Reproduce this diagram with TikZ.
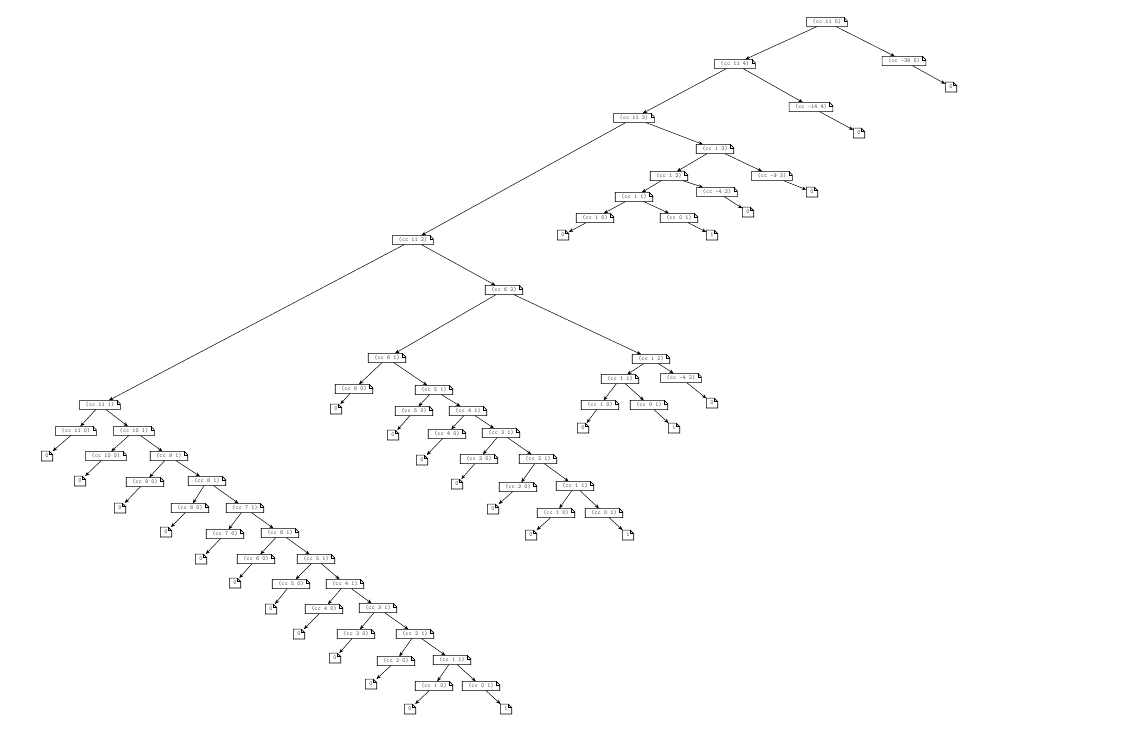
\documentclass[tikz,border=0pt]{standalone}
\usetikzlibrary{arrows.meta}
\tikzset{
  fold/.style={append after command={\pgfextra{%
    \draw[line width=0.6pt,line join=miter]
      (\tikzlastnode.south west) -- (\tikzlastnode.north west)
      -- ([xshift=-3.5pt]\tikzlastnode.north east)
      -- ([yshift=-3.5pt]\tikzlastnode.north east)
      -- (\tikzlastnode.south east) -- cycle;
    \draw[line width=0.3pt]
      ([xshift=-3.5pt]\tikzlastnode.north east)
      -- ([xshift=-3.5pt,yshift=-3.5pt]\tikzlastnode.north east)
      -- ([yshift=-3.5pt]\tikzlastnode.north east);}}},
  cc/.style={fold,inner xsep=5.8pt,inner ysep=1.7pt,text height=4.3pt,text depth=1.2pt,
    font=\ttfamily\fontsize{6}{7}\selectfont,text=black!70},
  lf/.style={fold,inner sep=0pt,minimum width=11pt,minimum height=9.5pt,
    font=\ttfamily\fontsize{6}{7}\selectfont,text=black!70},
  edge/.style={draw,line width=0.5pt,-{Stealth[length=4.5pt,width=3.5pt]}}
}
\begin{document}
\begin{tikzpicture}[x=1pt,y=-1pt]
\useasboundingbox[fill=white] (0,0) rectangle (1139,753);
% top part
\node[cc] (r) at (827,22) {(cc 11 5)};
\node[cc] (a) at (735,64) {(cc 11 4)};
\node[cc] (b) at (904,61) {(cc -39 5)};
\node[lf] (bl) at (951,87) {0};
\node[cc] (a1) at (634,118) {(cc 11 3)};
\node[cc] (a2) at (811,107) {(cc -14 4)};
\node[lf] (a2l) at (859,133) {0};
\node[cc] (c) at (413,240) {(cc 11 2)};
\node[cc] (d) at (715,149) {(cc 1 3)};
\node[cc] (d1) at (669,176) {(cc 1 2)};
\node[cc] (d2) at (772,176) {(cc -9 3)};
\node[lf] (d2l) at (812,192) {0};
\node[cc] (d11) at (634,197) {(cc 1 1)};
\node[cc] (d12) at (717,192) {(cc -4 2)};
\node[lf] (d12l) at (748,212) {0};
\node[cc] (d111) at (595,218) {(cc 1 0)};
\node[lf] (d111l) at (563,235) {0};
\node[cc] (d112) at (679,218) {(cc 0 1)};
\node[lf] (d112l) at (712,235) {1};
% (cc 6 2) subtree
\node[cc] (f) at (504,290) {(cc 6 2)};
\node[cc] (f2) at (651,359) {(cc 1 2)};
\node[cc] (f2a) at (620,379) {(cc 1 1)};
\node[cc] (f2b) at (681,378) {(cc -4 2)};
\node[lf] (f2bl) at (712,403) {0};
\node[cc] (f2aa) at (600,405) {(cc 1 0)};
\node[lf] (f2aal) at (583,428) {0};
\node[cc] (f2ab) at (649,405) {(cc 0 1)};
\node[lf] (f2abl) at (674,428) {1};
\node[cc] (M6a) at (387,358) {(cc 6 1)};
\node[cc] (M6b) at (354,389) {(cc 6 0)};
\node[lf] (M6c) at (336,409) {0};
\node[cc] (M5a) at (434,390) {(cc 5 1)};
\node[cc] (M5b) at (414,411) {(cc 5 0)};
\node[lf] (M5c) at (393,435) {0};
\node[cc] (M4a) at (468,411) {(cc 4 1)};
\node[cc] (M4b) at (447,434) {(cc 4 0)};
\node[lf] (M4c) at (422,460) {0};
\node[cc] (M3a) at (501,433) {(cc 3 1)};
\node[cc] (M3b) at (479,459) {(cc 3 0)};
\node[lf] (M3c) at (457,484) {0};
\node[cc] (M2a) at (538,459) {(cc 2 1)};
\node[cc] (M2b) at (518,487) {(cc 2 0)};
\node[lf] (M2c) at (493,509) {0};
\node[cc] (M1a) at (575,486) {(cc 1 1)};
\node[cc] (M1b) at (556,513) {(cc 1 0)};
\node[lf] (M1c) at (531,535) {0};
\node[cc] (M0a) at (604,513) {(cc 0 1)};
\node[lf] (M0c) at (628,535) {1};
% (cc 11 1) subtree
\node[cc] (L11a) at (100,405) {(cc 11 1)};
\node[cc] (L11b) at (76,431) {(cc 11 0)};
\node[lf] (L11c) at (47,456) {0};
\node[cc] (L10a) at (134,431) {(cc 10 1)};
\node[cc] (L10b) at (106,456) {(cc 10 0)};
\node[lf] (L10c) at (80,481) {0};
\node[cc] (L9a) at (169,456) {(cc 9 1)};
\node[cc] (L9b) at (145,482) {(cc 9 0)};
\node[lf] (L9c) at (120,508) {0};
\node[cc] (L8a) at (207,481) {(cc 8 1)};
\node[cc] (L8b) at (190,508) {(cc 8 0)};
\node[lf] (L8c) at (166,532) {0};
\node[cc] (L7a) at (245,508) {(cc 7 1)};
\node[cc] (L7b) at (225,534) {(cc 7 0)};
\node[lf] (L7c) at (201,559) {0};
\node[cc] (L6a) at (280,533) {(cc 6 1)};
\node[cc] (L6b) at (256,559) {(cc 6 0)};
\node[lf] (L6c) at (235,583) {0};
\node[cc] (L5a) at (316,559) {(cc 5 1)};
\node[cc] (L5b) at (291,584) {(cc 5 0)};
\node[lf] (L5c) at (271,609) {0};
\node[cc] (L4a) at (345,584) {(cc 4 1)};
\node[cc] (L4b) at (324,609) {(cc 4 0)};
\node[lf] (L4c) at (299,634) {0};
\node[cc] (L3a) at (378,608) {(cc 3 1)};
\node[cc] (L3b) at (356,634) {(cc 3 0)};
\node[lf] (L3c) at (335,658) {0};
\node[cc] (L2a) at (415,634) {(cc 2 1)};
\node[cc] (L2b) at (396,661) {(cc 2 0)};
\node[lf] (L2c) at (371,684) {0};
\node[cc] (L1a) at (452,660) {(cc 1 1)};
\node[cc] (L1b) at (434,686) {(cc 1 0)};
\node[lf] (L1c) at (410,709) {0};
\node[cc] (L0a) at (481,686) {(cc 0 1)};
\node[lf] (L0c) at (506,709) {1};
% edges
\draw[edge] (r) -- (a);
\draw[edge] (r) -- (b);
\draw[edge] (b) -- (bl);
\draw[edge] (a) -- (a1);
\draw[edge] (a) -- (a2);
\draw[edge] (a2) -- (a2l);
\draw[edge] (a1) -- (c);
\draw[edge] (a1) -- (d);
\draw[edge] (d) -- (d1);
\draw[edge] (d) -- (d2);
\draw[edge] (d2) -- (d2l);
\draw[edge] (d1) -- (d11);
\draw[edge] (d1) -- (d12);
\draw[edge] (d12) -- (d12l);
\draw[edge] (d11) -- (d111);
\draw[edge] (d11) -- (d112);
\draw[edge] (d111) -- (d111l);
\draw[edge] (d112) -- (d112l);
\draw[edge] (c) -- (L11a);
\draw[edge] (c) -- (f);
\draw[edge] (f) -- (M6a);
\draw[edge] (f) -- (f2);
\draw[edge] (f2) -- (f2a);
\draw[edge] (f2) -- (f2b);
\draw[edge] (f2b) -- (f2bl);
\draw[edge] (f2a) -- (f2aa);
\draw[edge] (f2a) -- (f2ab);
\draw[edge] (f2aa) -- (f2aal);
\draw[edge] (f2ab) -- (f2abl);
\foreach \k in {6,5,4,3,2,1}{
  \pgfmathtruncatemacro\j{\k-1}
  \draw[edge] (M\k a) -- (M\k b);
  \draw[edge] (M\k a) -- (M\j a);
  \draw[edge] (M\k b) -- (M\k c);
}
\draw[edge] (M0a) -- (M0c);
\foreach \k in {11,10,9,8,7,6,5,4,3,2,1}{
  \pgfmathtruncatemacro\j{\k-1}
  \draw[edge] (L\k a) -- (L\k b);
  \draw[edge] (L\k a) -- (L\j a);
  \draw[edge] (L\k b) -- (L\k c);
}
\draw[edge] (L0a) -- (L0c);
\end{tikzpicture}
\end{document}
